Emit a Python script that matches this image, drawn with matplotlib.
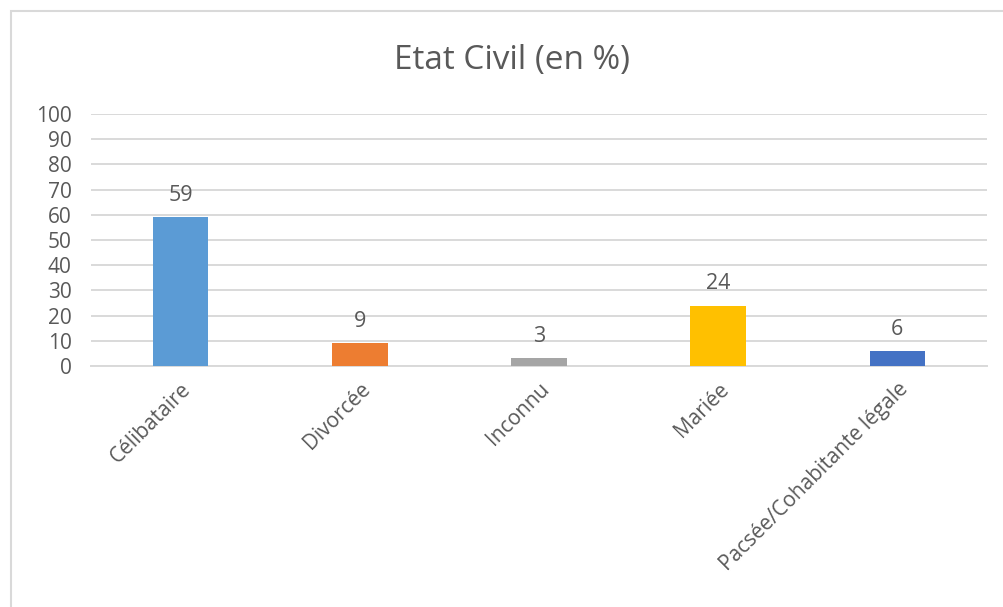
import matplotlib
matplotlib.use("Agg")
from matplotlib import pyplot as plt
from matplotlib.patches import Rectangle

# valeurs
categories = ["Célibataire", "Divorcée", "Inconnu", "Mariée", "Pacsée/Cohabitante légale"]
valeurs = [59, 9, 3, 24, 6]
couleurs = ["#5B9BD5", "#ED7D31", "#A5A5A5", "#FFC000", "#4472C4"]
yticks = [0, 10, 20, 30, 40, 50, 60, 70, 80, 90, 100]

plt.rcParams['font.family'] = ['Open Sans', 'DejaVu Sans']
gris = "#595959"

fig = plt.figure(figsize=(10.04, 6.07), dpi=100)
ax = fig.add_axes([0.0906, 0.397, 0.8924, 0.415])

x = range(len(categories))
ax.bar(x, valeurs, color=couleurs, width=0.31, zorder=3)
for i, v in zip(x, valeurs):
    ax.annotate(str(v), (i, v), xytext=(0, 8), textcoords="offset points",
                ha="center", va="bottom", fontsize=15.5, color=gris)

ax.set_xlim(-0.5, len(categories) - 0.5)
ax.set_ylim(0, 100)
ax.set_yticks(yticks)
ax.set_yticklabels([str(t) for t in yticks], fontsize=15, color=gris)
ax.set_xticks(list(x))
ax.set_xticklabels(categories, rotation=45, ha="right", rotation_mode="anchor",
                   fontsize=15, color=gris)
ax.tick_params(axis="y", length=0, pad=14)
ax.tick_params(axis="x", length=0, pad=9)
ax.grid(axis="y", color="#D9D9D9", linewidth=1.4, zorder=0)
for s in ["top", "right", "left"]:
    ax.spines[s].set_visible(False)
ax.spines["bottom"].set_color("#D9D9D9")
ax.spines["bottom"].set_linewidth(1.4)

fig.text(0.51, 0.90, "Etat Civil (en %)", ha="center", va="center",
         fontsize=24, color=gris)

# cadre du graphique (coupé à droite et en bas)
cadre = Rectangle((11 / 1004, -0.05), 1.1, 0.05 + 596 / 607, transform=fig.transFigure,
                  fill=False, edgecolor="#D9D9D9", linewidth=1.5, clip_on=False)
fig.patches.append(cadre)

plt.savefig("out.png", dpi=100)
